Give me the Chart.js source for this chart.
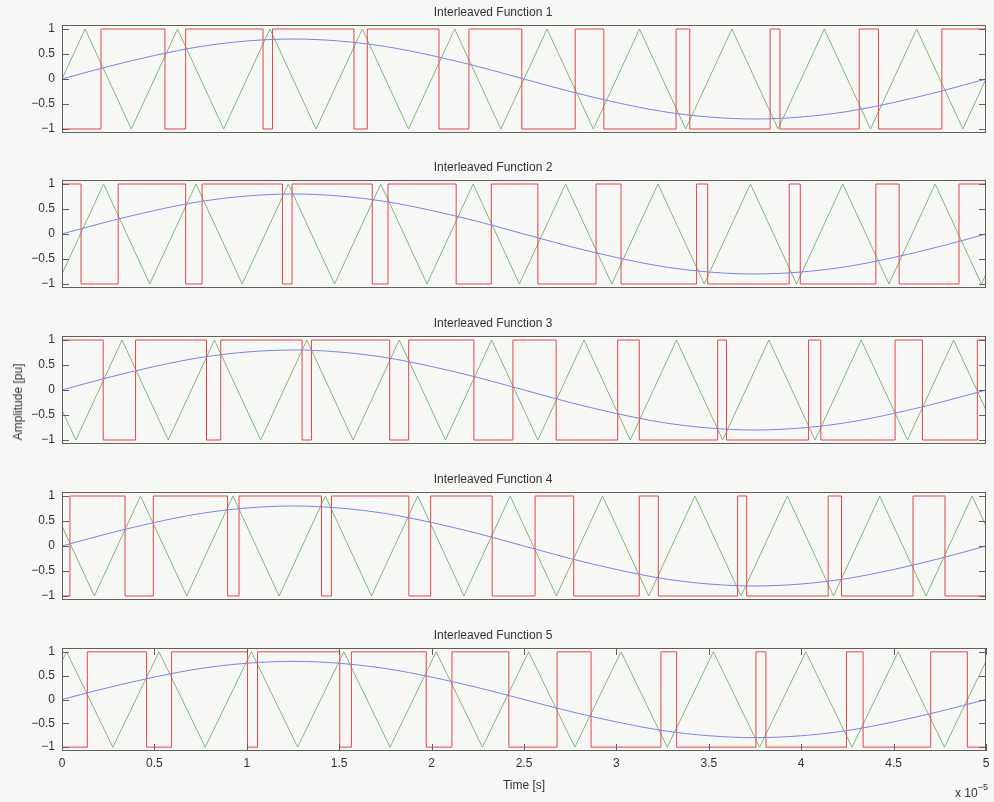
<!DOCTYPE html>
<html>
<head>
<meta charset="utf-8">
<script src="https://cdn.jsdelivr.net/npm/chart.js@4.4.1/dist/chart.umd.min.js"></script>
<style>
  body { margin: 0; background: #f7f7f5; width: 994px; height: 802px; overflow: hidden; position: relative;
         font-family: "Liberation Sans", Arial, sans-serif; color: #333; }
  canvas { position: absolute; left: 0; }
  #ylab { position: absolute; left: 18px; top: 402px; transform: translate(-50%, -50%) rotate(-90deg);
          font-size: 12px; white-space: nowrap; }
  #xexp { position: absolute; left: 955px; top: 784px; font-size: 12px; white-space: nowrap; }
  #xexp sup { font-size: 9px; position: relative; top: -2px; }
</style>
</head>
<body>
<canvas id="c1" width="994" height="135" style="top:0px"></canvas>
<canvas id="c2" width="994" height="135" style="top:155px"></canvas>
<canvas id="c3" width="994" height="135" style="top:311px"></canvas>
<canvas id="c4" width="994" height="135" style="top:467px"></canvas>
<canvas id="c5" width="994" height="172" style="top:623px"></canvas>
<div id="ylab">Amplitude [pu]</div>
<div id="xexp">x 10<sup>−5</sup></div>
<script>
// time in units of 1e-5 s
// reference sine (same in every subplot)
var refT = [0, 0.25, 0.5, 0.75, 1, 1.25, 1.5, 1.75, 2, 2.25, 2.5, 2.75, 3, 3.25, 3.5, 3.75, 4, 4.25, 4.5, 4.75, 5];
var refV = [0, 0.25, 0.47, 0.65, 0.76, 0.8, 0.76, 0.65, 0.47, 0.25, 0, -0.25, -0.47, -0.65, -0.76, -0.8, -0.76, -0.65, -0.47, -0.25, 0];

// triangle carriers: corner points [t, value]
var carrier1 = [[0,0],[0.125,1],[0.375,-1],[0.625,1],[0.875,-1],[1.125,1],[1.375,-1],[1.625,1],[1.875,-1],[2.125,1],[2.375,-1],
                [2.625,1],[2.875,-1],[3.125,1],[3.375,-1],[3.625,1],[3.875,-1],[4.125,1],[4.375,-1],[4.625,1],[4.875,-1],[5,0]];
var carrier2 = [[0,-0.8],[0.225,1],[0.475,-1],[0.725,1],[0.975,-1],[1.225,1],[1.475,-1],[1.725,1],[1.975,-1],[2.225,1],[2.475,-1],
                [2.725,1],[2.975,-1],[3.225,1],[3.475,-1],[3.725,1],[3.975,-1],[4.225,1],[4.475,-1],[4.725,1],[4.975,-1],[5,-0.8]];
var carrier3 = [[0,-0.4],[0.075,-1],[0.325,1],[0.575,-1],[0.825,1],[1.075,-1],[1.325,1],[1.575,-1],[1.825,1],[2.075,-1],[2.325,1],
                [2.575,-1],[2.825,1],[3.075,-1],[3.325,1],[3.575,-1],[3.825,1],[4.075,-1],[4.325,1],[4.575,-1],[4.825,1],[5,-0.4]];
var carrier4 = [[0,0.4],[0.175,-1],[0.425,1],[0.675,-1],[0.925,1],[1.175,-1],[1.425,1],[1.675,-1],[1.925,1],[2.175,-1],[2.425,1],
                [2.675,-1],[2.925,1],[3.175,-1],[3.425,1],[3.675,-1],[3.925,1],[4.175,-1],[4.425,1],[4.675,-1],[4.925,1],[5,0.4]];
var carrier5 = [[0,0.8],[0.025,1],[0.275,-1],[0.525,1],[0.775,-1],[1.025,1],[1.275,-1],[1.525,1],[1.775,-1],[2.025,1],[2.275,-1],
                [2.525,1],[2.775,-1],[3.025,1],[3.275,-1],[3.525,1],[3.775,-1],[4.025,1],[4.275,-1],[4.525,1],[4.775,-1],[5,0.8]];

// switching signals: level at t=0 and the times where it flips
var pwmStart = [-1, 1, 1, -1, -1];
var pwm1 = [0.211,0.557,0.669,1.088,1.139,1.580,1.652,2.040,2.202,2.488,2.777,2.932,3.323,3.397,3.832,3.885,4.314,4.418,4.761];
var pwm2 = [0.103,0.304,0.669,0.758,1.193,1.245,1.679,1.764,2.133,2.323,2.575,2.890,3.025,3.434,3.494,3.935,3.995,4.404,4.530,4.854];
var pwm3 = [0.223,0.398,0.782,0.859,1.299,1.350,1.773,1.876,2.229,2.440,2.674,3.007,3.124,3.548,3.596,4.040,4.106,4.508,4.656,4.953];
var pwm4 = [0.043,0.341,0.494,0.896,0.958,1.404,1.458,1.877,1.995,2.328,2.560,2.769,3.124,3.227,3.656,3.705,4.146,4.218,4.605,4.778];
var pwm5 = [0.137,0.458,0.593,1.004,1.058,1.503,1.566,1.971,2.110,2.418,2.679,2.863,3.241,3.326,3.755,3.809,4.245,4.335,4.701,4.899];

var titles = ["Interleaved Function 1", "Interleaved Function 2", "Interleaved Function 3",
              "Interleaved Function 4", "Interleaved Function 5"];
var carriers = [carrier1, carrier2, carrier3, carrier4, carrier5];
var pwms = [pwm1, pwm2, pwm3, pwm4, pwm5];

var FONT = {family: "'Liberation Sans', Arial, sans-serif", size: 12, weight: 'normal'};

function pwmPoints(start, edges){
  var pts = [{x: 0, y: start}];
  var v = start;
  edges.forEach(function(t){ v = -v; pts.push({x: t, y: v}); });
  pts.push({x: 5, y: v});
  return pts;
}

// axes box with inward ticks, matlab style
var frame = {
  id: 'frame',
  afterDraw: function(chart){
    var ctx = chart.ctx, a = chart.chartArea, sx = chart.scales.x, sy = chart.scales.y;
    ctx.save();
    ctx.strokeStyle = '#606060';
    ctx.lineWidth = 1;
    ctx.strokeRect(a.left + 0.5, a.top + 0.5, a.width - 1, a.height - 1);
    ctx.beginPath();
    sy.ticks.forEach(function(t){
      var y = Math.round(sy.getPixelForValue(t.value)) + 0.5;
      ctx.moveTo(a.left, y); ctx.lineTo(a.left + 7, y);
      ctx.moveTo(a.right, y); ctx.lineTo(a.right - 7, y);
    });
    if (sx.options.display) {
      sx.ticks.forEach(function(t){
        var x = Math.round(sx.getPixelForValue(t.value)) + 0.5;
        ctx.moveTo(x, a.top); ctx.lineTo(x, a.top + 7);
        ctx.moveTo(x, a.bottom); ctx.lineTo(x, a.bottom - 7);
      });
    }
    ctx.stroke();
    ctx.restore();
  }
};

function fmt(v){ return v < 0 ? '\u2212' + Math.abs(v) : String(v); }

for (var i = 0; i < 5; i++) {
  var last = (i === 4);
  var refData = refT.map(function(t, k){ return {x: t, y: refV[k]}; });
  var carData = carriers[i].map(function(p){ return {x: p[0], y: p[1]}; });

  new Chart(document.getElementById('c' + (i + 1)), {
    type: 'line',
    data: {
      datasets: [
        {data: refData, borderColor: 'rgb(120,132,230)', borderWidth: 1, pointRadius: 0,
         cubicInterpolationMode: 'monotone', order: 0},
        {data: carData, borderColor: 'rgb(125,185,125)', borderWidth: 1, pointRadius: 0, tension: 0, order: 2},
        {data: pwmPoints(pwmStart[i], pwms[i]), borderColor: 'rgb(228,70,70)', borderWidth: 1, pointRadius: 0,
         stepped: 'before', order: 1}
      ]
    },
    options: {
      responsive: false,
      animation: false,
      events: [],
      layout: {padding: {left: 0, right: 8, top: 0, bottom: last ? 2.2 : 2}},
      plugins: {
        legend: {display: false},
        tooltip: {enabled: false},
        title: {display: true, text: titles[i], color: '#333', font: FONT, padding: {top: 5.5, bottom: 5.1}}
      },
      scales: {
        x: {
          type: 'linear', min: 0, max: 5, display: last,
          grid: {display: false, drawTicks: false}, border: {display: false},
          ticks: {stepSize: 0.5, padding: 5, color: '#333', font: FONT, maxRotation: 0, callback: fmt},
          title: {display: last, text: 'Time [s]', color: '#333', font: FONT, padding: {top: 3, bottom: 0}},
          afterFit: function(s){ s.paddingLeft = 0; s.paddingRight = 0; }
        },
        y: {
          min: -1.08, max: 1.08,
          grid: {display: false, drawTicks: false}, border: {display: false},
          ticks: {stepSize: 0.5, includeBounds: false, padding: 7, color: '#333', font: FONT, callback: fmt},
          afterFit: function(s){ s.width = 62; s.paddingTop = 0; s.paddingBottom = 0; }
        }
      }
    },
    plugins: [frame]
  });
}
</script>
</body>
</html>
